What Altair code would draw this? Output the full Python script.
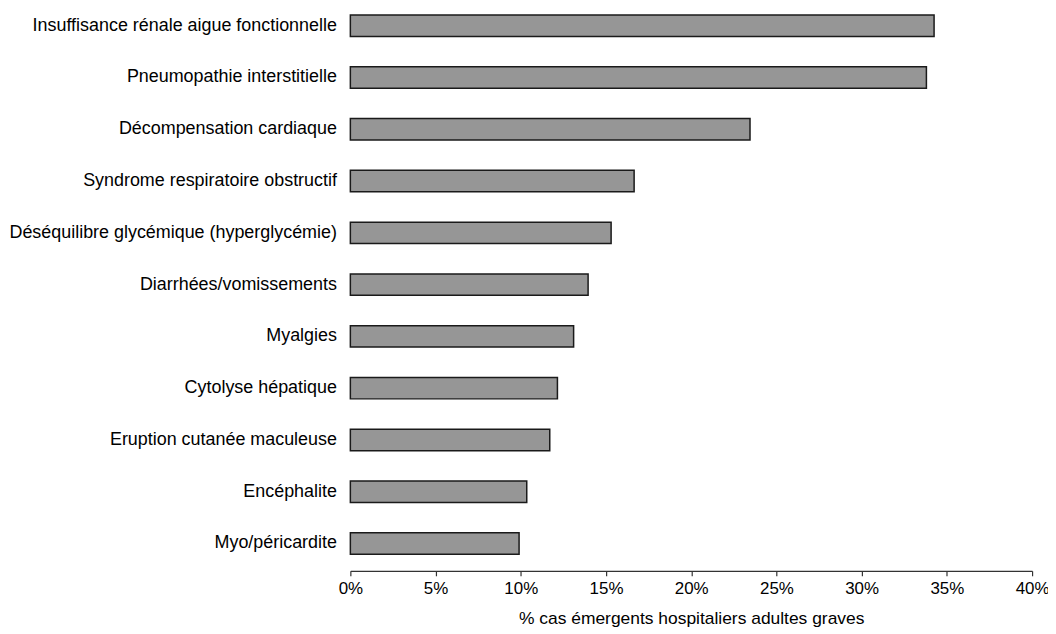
import altair as alt
import pandas as pd

categories = [
    "Insuffisance rénale aigue fonctionnelle",
    "Pneumopathie interstitielle",
    "Décompensation cardiaque",
    "Syndrome respiratoire obstructif",
    "Déséquilibre glycémique (hyperglycémie)",
    "Diarrhées/vomissements",
    "Myalgies",
    "Cytolyse hépatique",
    "Eruption cutanée maculeuse",
    "Encéphalite",
    "Myo/péricardite",
]
percent_values = [34.25, 33.8, 23.45, 16.65, 15.3, 13.95, 13.1, 12.15, 11.7, 10.35, 9.9]
tick_values = [0.0, 0.05, 0.10, 0.15, 0.20, 0.25, 0.30, 0.35, 0.40]
x_title = "% cas émergents hospitaliers adultes graves"

df = pd.DataFrame({
    "categorie": categories,
    "valeur": [v / 100 for v in percent_values],
})

FONT = "Liberation Sans"

chart = alt.Chart(df).mark_bar(
    fill="#969696",
    stroke="#1a1a1a",
    strokeWidth=1.5,
).encode(
    x=alt.X(
        "valeur:Q",
        scale=alt.Scale(domain=[0, 0.4], nice=False, zero=True),
        axis=alt.Axis(
            values=tick_values,
            format=".0%",
            title=x_title,
            grid=False,
            domainColor="#333333",
            domainWidth=1.2,
            tickColor="#333333",
            tickSize=5,
            tickWidth=1.2,
            labelFontSize=17,
            labelColor="black",
            labelFont=FONT,
            labelPadding=5,
            titleFont=FONT,
            titleFontSize=17.5,
            titleFontWeight="normal",
            titleColor="black",
            titlePadding=13,
            labelFlush=False,
        ),
    ),
    y=alt.Y(
        "categorie:N",
        sort=categories,
        scale=alt.Scale(paddingInner=0.587, paddingOuter=0.2135, align=0.25),
        axis=alt.Axis(
            title=None,
            domain=False,
            ticks=False,
            labelFontSize=18,
            labelFont=FONT,
            labelColor="black",
            labelPadding=14,
            labelLimit=0,
        ),
    ),
).properties(
    width=685,
    height=564,
    autosize=alt.AutoSizeParams(type="none"),
    padding={"left": 344, "top": 0, "right": 16, "bottom": 62},
).configure(
    font=FONT,
).configure_view(
    stroke=None,
)

chart.save("out.html", embed_options={"renderer": "svg", "actions": False})
